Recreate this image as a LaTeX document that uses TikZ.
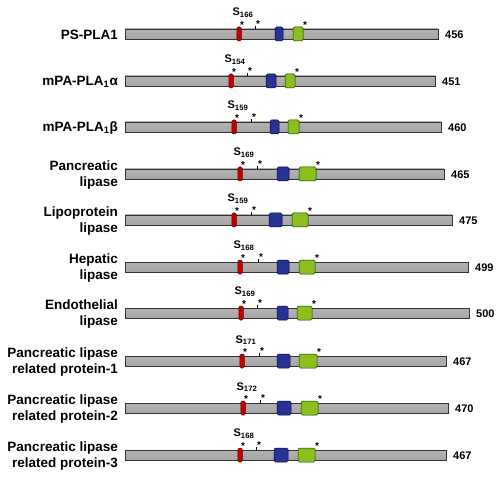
\documentclass[tikz,border=0pt]{standalone}
\usepackage{fontspec}
\setmainfont{Liberation Sans}
\begin{document}
\begin{tikzpicture}[x=1pt,y=-1pt,
  bar/.style={draw=gray!40!black, line width=0.6pt, top color=gray!60, middle color=gray!25, bottom color=gray!70},
  redm/.style={draw=red!40!black, fill=red!75!black, rounded corners=1.5pt, line width=0.5pt, inner sep=0pt, minimum width=4.5pt, minimum height=14pt},
  bluem/.style={draw=blue!30!black, fill={rgb,255:red,40;green,50;blue,145}, rounded corners=1.5pt, line width=0.5pt, inner sep=0pt, minimum height=14pt},
  greenm/.style={draw=green!25!black, fill={rgb,255:red,140;green,190;blue,30}, rounded corners=1.5pt, line width=0.5pt, inner sep=0pt, minimum height=14pt},
  astx/.style={font=\bfseries\fontsize{10}{10}\selectfont, inner sep=0pt},
  slabel/.style={font=\bfseries\fontsize{11}{11}\selectfont, inner sep=0pt},
  numlabel/.style={font=\bfseries\fontsize{11}{11}\selectfont, inner sep=0pt, anchor=west},
  protlabel/.style={font=\bfseries\fontsize{13.5}{16}\selectfont, inner sep=0pt, anchor=east, align=right},
  tickline/.style={line width=0.6pt, draw=black}
]
\useasboundingbox (0,0) rectangle (500,478);
\foreach \i/\y/\e/\r/\ba/\bb/\ga/\gb/\t/\s/\n in {
  1/34/438/239/275/283/293/303/255/166/456,
  2/81/435/231/266/276/285/295/247/154/451,
  3/127/441/234/270/279/288/299/251/159/460,
  4/174/444/240/277/289/299/316/257/169/465,
  5/220/452/234/269/282/292/308/251/159/475,
  6/267/468/240/277/289/299/315/258/168/499,
  7/313/469/241/277/288/297/312/257/169/500,
  8/361/446/242/277/290/299/317/259/171/467,
  9/408/448/243/277/291/301/318/260/172/470,
  10/455/446/240/274/288/298/315/256/168/467}{
  \pgfmathsetmacro\bc{(\ba+\bb)/2}
  \pgfmathsetmacro\bw{\bb-\ba}
  \pgfmathsetmacro\gc{(\ga+\gb)/2}
  \pgfmathsetmacro\gw{\gb-\ga}
  \shade[bar] (125,\y-5) rectangle (\e,\y+5);
  \coordinate (bstart\i) at (125,\y);
  \coordinate (bend\i) at (\e,\y);
  \node[redm] (red\i) at (\r,\y) {};
  \node[bluem, minimum width=\bw pt] (blue\i) at (\bc,\y) {};
  \node[greenm, minimum width=\gw pt] (green\i) at (\gc,\y) {};
  \coordinate (tickb\i) at (\t,\y-5);
  \coordinate (ticke\i) at (\t,\y-8);
  \draw[tickline] (tickb\i) -- (ticke\i);
  \node[astx] (asta\i) at (\r+3,\y-9) {*};
  \node[astx] (astb\i) at (\t+3,\y-10) {*};
  \node[astx] (astc\i) at (\gb+2,\y-9) {*};
  \node[slabel] (s\i) at (\r+4,\y-21) {S\textsubscript{\s}};
  \node[numlabel] (n\i) at (\e+7,\y+1) {\n};
}
\node[protlabel] (p1) at (118,35) {PS-PLA1};
\node[protlabel] (p2) at (118,82) {mPA-PLA\textsubscript{1}α};
\node[protlabel] (p3) at (118,128) {mPA-PLA\textsubscript{1}β};
\node[protlabel] (p4) at (118,175) {Pancreatic\\lipase};
\node[protlabel] (p5) at (118,221) {Lipoprotein\\lipase};
\node[protlabel] (p6) at (118,268) {Hepatic\\lipase};
\node[protlabel] (p7) at (118,314) {Endothelial\\lipase};
\node[protlabel] (p8) at (118,362) {Pancreatic lipase\\related protein-1};
\node[protlabel] (p9) at (118,409) {Pancreatic lipase\\related protein-2};
\node[protlabel] (p10) at (118,456) {Pancreatic lipase\\related protein-3};
\end{tikzpicture}
\end{document}
